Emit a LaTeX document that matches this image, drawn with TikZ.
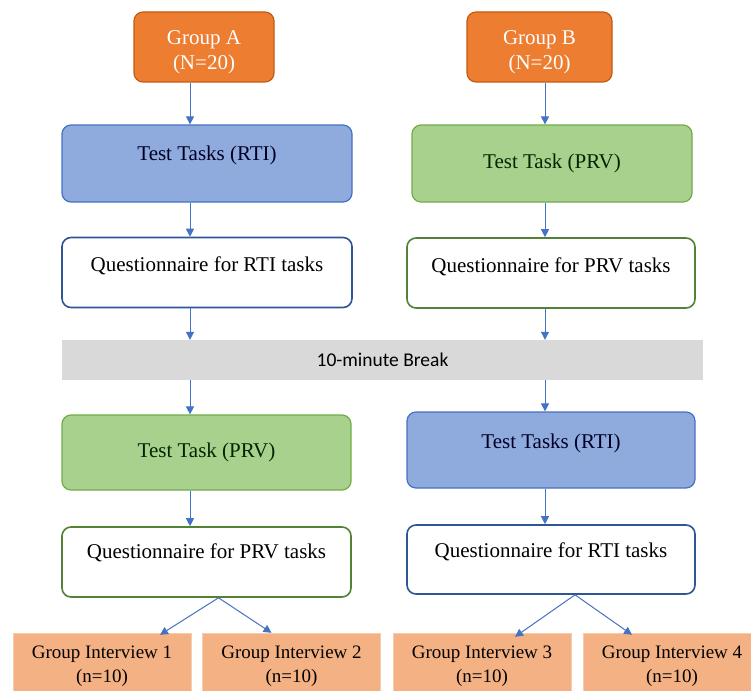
\documentclass[tikz,border=0pt]{standalone}
\usepackage{fontspec}
\setmainfont{Liberation Serif}
\newfontfamily\breakfont{Carlito}
\usepackage{xcolor}
\usepackage{tikz}
\usetikzlibrary{arrows.meta, positioning}

\definecolor{grporange}{HTML}{ED7D31}
\definecolor{grpedge}{HTML}{C55A11}
\definecolor{rtifill}{HTML}{8FAADC}
\definecolor{rtiedge}{HTML}{4472C4}
\definecolor{prvfill}{HTML}{A9D18E}
\definecolor{prvedge}{HTML}{70AD47}
\definecolor{qblue}{HTML}{2F5597}
\definecolor{qgreen}{HTML}{548235}
\definecolor{breakgray}{HTML}{D9D9D9}
\definecolor{ivfill}{HTML}{F4B183}
\definecolor{ivedge}{HTML}{F8CBAD}
\definecolor{arrowblue}{HTML}{4472C4}

\tikzset{
  box/.style={rounded corners=9pt, inner sep=0pt, align=center,
    font=\fontsize{21}{25}\selectfont, line width=1.2pt},
  groupbox/.style={box, fill=grporange, draw=grpedge, text=white,
    minimum width=140pt, minimum height=70pt},
  rtibox/.style={box, fill=rtifill, draw=rtiedge, text=black!85!blue,
    minimum height=77pt},
  prvbox/.style={box, fill=prvfill, draw=prvedge, text=black!85!green,
    minimum height=77pt},
  qbluebox/.style={box, fill=white, draw=qblue, line width=1.6pt, minimum height=70pt},
  qgreenbox/.style={box, fill=white, draw=qgreen, line width=1.6pt, minimum height=70pt},
  breakbar/.style={fill=breakgray, inner sep=0pt, minimum width=641pt,
    minimum height=40pt, font=\breakfont\fontsize{19.5}{23}\selectfont},
  ivbox/.style={fill=ivfill, draw=ivedge, inner sep=0pt, align=center,
    minimum width=178pt, minimum height=67pt,
    font=\fontsize{19}{24}\selectfont},
  flow/.style={draw=arrowblue, line width=1pt,
    -{Triangle[length=8pt,width=8pt]}}
}

\begin{document}
\begin{tikzpicture}[x=1pt, y=-1pt]
\clip (0,0) rectangle (751,690);
\fill[white] (0,0) rectangle (751,690);

% Groups
\node[groupbox] (GroupA) at (204, 47) {\rule{0pt}{25pt}Group A\\(N=20)};
\node[groupbox, minimum width=145pt] (GroupB) at (539.5, 47) {\rule{0pt}{25pt}Group B\\(N=20)};

% First session
\node[rtibox, minimum width=290pt, text depth=21pt] (TestA1) at (207, 163.5) {Test Tasks (RTI)};
\node[prvbox, minimum width=280pt] (TestB1) at (552, 163.5) {Test Task (PRV)};
\node[qbluebox, minimum width=290pt, text depth=17pt] (QA1) at (207, 272.5) {Questionnaire for RTI tasks};
\node[qgreenbox, minimum width=288pt, text depth=16pt] (QB1) at (551, 273) {Questionnaire for PRV tasks};

% Break
\node[breakbar] (Brk) at (382.5, 360) {10-minute Break};

% Second session
\node[prvbox, minimum width=289pt, minimum height=75pt] (TestA2) at (206.5, 452.5) {Test Task (PRV)};
\node[rtibox, minimum width=288pt, minimum height=76pt, text depth=18pt] (TestB2) at (551, 450) {Test Tasks (RTI)};
\node[qgreenbox, minimum width=289pt, text depth=22pt] (QA2) at (206.5, 562) {Questionnaire for PRV tasks};
\node[qbluebox, minimum width=288pt, minimum height=69pt, text depth=19pt] (QB2) at (551, 559.5) {Questionnaire for RTI tasks};

% Interviews
\node[ivbox] (GI1) at (102, 666.5) {Group Interview 1\\(n=10)};
\node[ivbox] (GI2) at (291.5, 666.5) {Group Interview 2\\(n=10)};
\node[ivbox] (GI3) at (482, 666.5) {Group Interview 3\\(n=10)};
\node[ivbox] (GI4) at (672, 666.5) {Group Interview 4\\(n=10)};

% Column lines for the arrows
\coordinate (colA) at (190, 0);
\coordinate (colB) at (545, 0);

\foreach \a/\b/\c in {GroupA/TestA1/colA, TestA1/QA1/colA, QA1/Brk/colA,
    Brk/TestA2/colA, TestA2/QA2/colA, GroupB/TestB1/colB, TestB1/QB1/colB,
    QB1/Brk/colB, Brk/TestB2/colB, TestB2/QB2/colB} {
  \draw[flow] (\a.south -| \c) -- (\b.north -| \c);
}

% Split into interviews
\draw[flow] ([xshift=12pt]QA2.south) -- ([xshift=58pt, yshift=-2pt]GI1.north);
\draw[flow] ([xshift=12pt]QA2.south) -- ([xshift=-20pt]GI2.north);
\draw[flow] ([xshift=24pt]QB2.south) -- ([xshift=33pt, yshift=-4pt]GI3.north);
\draw[flow] ([xshift=24pt]QB2.south) -- ([xshift=-40pt, yshift=-2pt]GI4.north);
\end{tikzpicture}
\end{document}
